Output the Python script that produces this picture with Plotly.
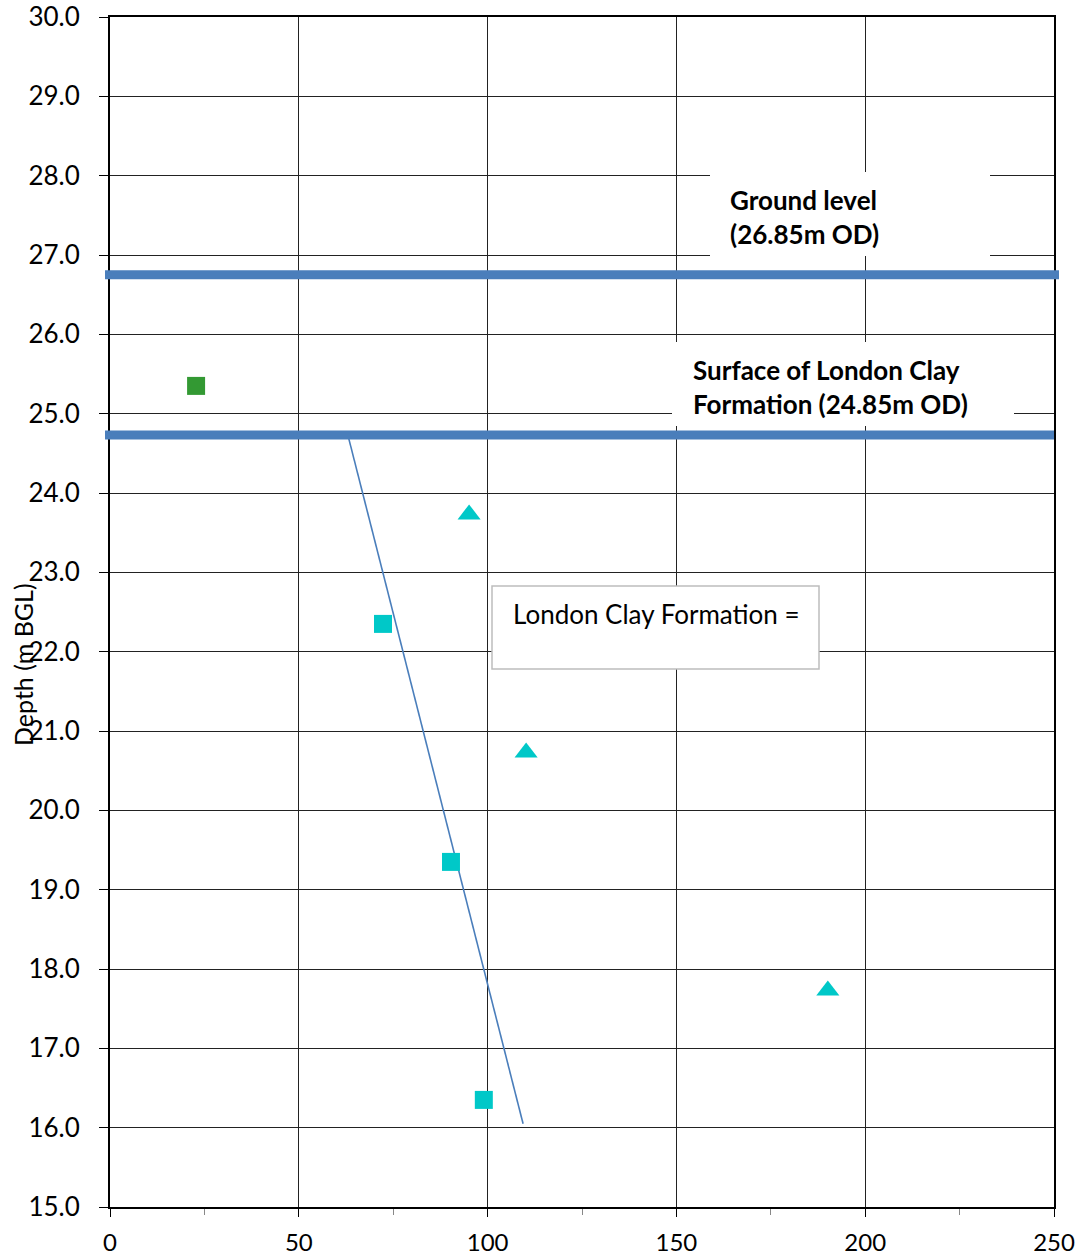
import plotly.graph_objects as go

# ---- data ----
green_sq_x = [22.8]
green_sq_y = [25.35]
cyan_sq_x = [72.3, 90.3, 99.0]
cyan_sq_y = [22.35, 19.35, 16.35]
cyan_tri_x = [95.1, 110.2, 190.1]
cyan_tri_y = [23.73, 20.73, 17.73]
trend_x = [63.0, 109.4]
trend_y = [24.73, 16.05]
ground_level_y = 26.75
clay_surface_y = 24.73
x_ticks = [0, 50, 100, 150, 200, 250]
y_ticks = [15.0 + i for i in range(16)]

W, H = 1080, 1259
PL, PR, PT, PB = 110, 1054, 17, 1207   # plot area in window pixels
L, R, T, B = PL, W - PR, PT, H - PB
PW, PH = PR - PL, PB - PT
FONT = "Lato"

def px(x):
    return (x - PL) / PW

def py(y):
    return 1 - (y - PT) / PH

fig = go.Figure()
fig.add_trace(go.Scatter(x=trend_x, y=trend_y, mode="lines",
                         line=dict(color="#4a7ebb", width=1.6), hoverinfo="skip"))
fig.add_trace(go.Scatter(x=green_sq_x, y=green_sq_y, mode="markers",
                         marker=dict(symbol="square", size=18, color="#339933"), hoverinfo="skip"))
fig.add_trace(go.Scatter(x=cyan_sq_x, y=cyan_sq_y, mode="markers",
                         marker=dict(symbol="square", size=18, color="#00c8c8"), hoverinfo="skip"))
fig.add_trace(go.Scatter(x=cyan_tri_x, y=cyan_tri_y, mode="markers",
                         marker=dict(symbol="triangle-up", size=20, color="#00c8c8"), hoverinfo="skip"))

shapes = [
    dict(type="line", xref="paper", yref="y", x0=px(105), x1=px(1059),
         y0=ground_level_y, y1=ground_level_y, line=dict(color="#4a7ebb", width=9)),
    dict(type="line", xref="paper", yref="y", x0=px(105), x1=px(1054),
         y0=clay_surface_y, y1=clay_surface_y, line=dict(color="#4a7ebb", width=9)),
    dict(type="rect", xref="paper", yref="paper", x0=px(710), x1=px(990), y0=py(256), y1=py(172),
         fillcolor="white", line=dict(width=0), layer="above"),
    dict(type="rect", xref="paper", yref="paper", x0=px(672), x1=px(1014), y0=py(426), y1=py(342),
         fillcolor="white", line=dict(width=0), layer="above"),
    dict(type="rect", xref="paper", yref="paper", x0=px(492), x1=px(819), y0=py(669), y1=py(586),
         fillcolor="white", line=dict(color="#bdbdbd", width=1.5), layer="above"),
]

annotations = [
    dict(xref="paper", yref="paper", x=px(728), y=py(217), xanchor="left", yanchor="middle",
         text="<b>Ground level<br>(26.85m OD)</b>", align="left", showarrow=False,
         font=dict(family=FONT, size=26, color="black")),
    dict(xref="paper", yref="paper", x=px(691), y=py(387), xanchor="left", yanchor="middle",
         text="<b>Surface of London Clay<br>Formation (24.85m OD)</b>", align="left", showarrow=False,
         font=dict(family=FONT, size=26, color="black")),
    dict(xref="paper", yref="paper", x=px(511), y=py(614), xanchor="left", yanchor="middle",
         text="London Clay Formation =", align="left", showarrow=False,
         font=dict(family=FONT, size=26, color="black")),
    dict(xref="paper", yref="paper", x=px(23), y=py(665), xanchor="center", yanchor="middle",
         text="Depth (m BGL)", textangle=-90, showarrow=False,
         font=dict(family=FONT, size=25, color="black")),
]

fig.update_layout(
    width=W, height=H,
    margin=dict(l=L, r=R, t=T, b=B, autoexpand=False),
    plot_bgcolor="white", paper_bgcolor="white",
    showlegend=False,
    shapes=shapes, annotations=annotations,
    font=dict(family=FONT, size=26, color="black"),
)
fig.update_xaxes(range=[0, 250], tickvals=x_ticks, ticktext=[str(v) for v in x_ticks],
                 showgrid=True, gridcolor="#222222", gridwidth=1,
                 showline=True, linecolor="black", linewidth=2, mirror=True,
                 ticks="outside", ticklen=8, tickcolor="black", tickwidth=1,
                 minor=dict(dtick=25, tick0=0, ticks="outside", ticklen=6, tickcolor="#888888", showgrid=False),
                 zeroline=False, tickfont=dict(family=FONT, size=24), ticklabelstandoff=5,
                 ticklabeloverflow="allow")
fig.update_yaxes(range=[15, 30], tickvals=y_ticks, ticktext=[f"{v:.1f}" for v in y_ticks],
                 showgrid=True, gridcolor="#222222", gridwidth=1,
                 showline=True, linecolor="black", linewidth=2, mirror=True,
                 ticks="outside", ticklen=9, tickcolor="black", tickwidth=1,
                 zeroline=False, tickfont=dict(family=FONT, size=26), ticklabelstandoff=14,
                 ticklabeloverflow="allow")

fig.write_html("out.html", config={"displayModeBar": False},
               post_script="document.body.style.margin='0';document.body.style.overflow='hidden';")
